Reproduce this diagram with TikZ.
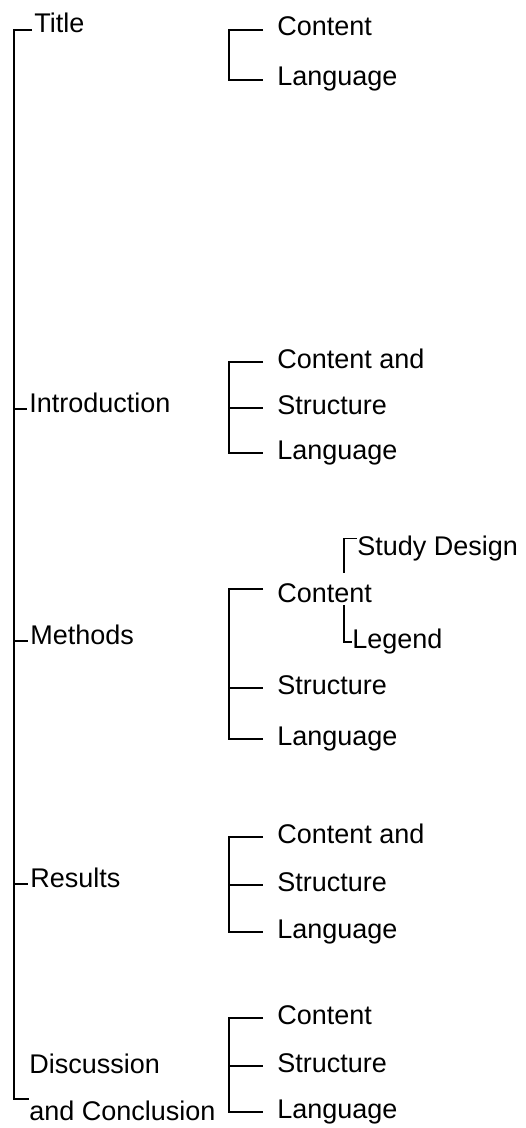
\documentclass[tikz,border=0pt]{standalone}
\usepackage{fontspec}
\setmainfont{Liberation Sans}
\begin{document}
\begin{tikzpicture}[x=0.5pt,y=-0.5pt,
  conn/.style={draw=black,line width=0.6pt},
  mainlbl/.style={anchor=west,inner xsep=1pt,inner ysep=0pt,text height=3pt,text depth=0pt,
    font=\fontsize{13.5}{16}\selectfont},
  item/.style={anchor=west,inner xsep=7pt,inner ysep=0pt,text height=6pt,text depth=0pt,
    font=\fontsize{13.5}{16}\selectfont},
  subitem/.style={inner sep=0pt,text height=6pt,text depth=0pt,
    font=\fontsize{13.5}{16}\selectfont}]
\useasboundingbox (0,0) rectangle (525,1128);
% main column
\node[mainlbl] (title) at (32,30) {Title};
\node[mainlbl] (intro) at (27,409) {Introduction};
\node[mainlbl] (methods) at (28,641) {Methods};
\node[mainlbl] (results) at (28,884) {Results};
\node[anchor=north west,inner sep=0pt,align=left,
  font=\fontsize{13.5}{23.5}\selectfont] (disc) at (29,1054) {Discussion\\and Conclusion};
\coordinate (sbot) at (14,1099);
\coordinate (gx) at (229,0);
\coordinate (sdx) at (344,0);
% title group
\node[item] (tc) at (263,30) {Content};
\node[item] (tl) at (263,80) {Language};
% introduction group
\node[item] (ic) at (263,362) {Content and};
\node[item] (is) at (263,408) {Structure};
\node[item] (il) at (263,453) {Language};
% methods group
\node[item,text height=13pt,inner ysep=1.5pt] (mc) at (263,589) {Content};
\node[item] (ms) at (263,688) {Structure};
\node[item] (ml) at (263,739) {Language};
\node[subitem,text height=8pt,anchor=base west] (sd) at (357,555) {Study Design};
\node[subitem,anchor=west] (lg) at (352,642) {Legend};
% results group
\node[item] (rc) at (263,837) {Content and};
\node[item] (rs) at (263,885) {Structure};
\node[item] (rl) at (263,932) {Language};
% discussion group
\node[item] (dc) at (263,1018) {Content};
\node[item] (ds) at (263,1066) {Structure};
\node[item] (dl) at (263,1112) {Language};
% main connectors
\draw[conn] (title.west) -| (sbot) -- (disc.west |- sbot);
\draw[conn] (sbot |- intro.west) -- (intro.west);
\draw[conn] (sbot |- methods.west) -- (methods.west);
\draw[conn] (sbot |- results.west) -- (results.west);
% group connectors
\draw[conn] (tc.west) -| (gx |- tl.west) -- (tl.west);
\draw[conn] (ic.west) -| (gx |- il.west) -- (il.west);
\draw[conn] (gx |- is.west) -- (is.west);
\draw[conn] (mc.west) -| (gx |- ml.west) -- (ml.west);
\draw[conn] (gx |- ms.west) -- (ms.west);
\draw[conn] (mc.north -| sdx) |- (sd.north west);
\draw[conn] (mc.south -| sdx) |- (lg.west);
\draw[conn] (rc.west) -| (gx |- rl.west) -- (rl.west);
\draw[conn] (gx |- rs.west) -- (rs.west);
\draw[conn] (dc.west) -| (gx |- dl.west) -- (dl.west);
\draw[conn] (gx |- ds.west) -- (ds.west);
\end{tikzpicture}
\end{document}
